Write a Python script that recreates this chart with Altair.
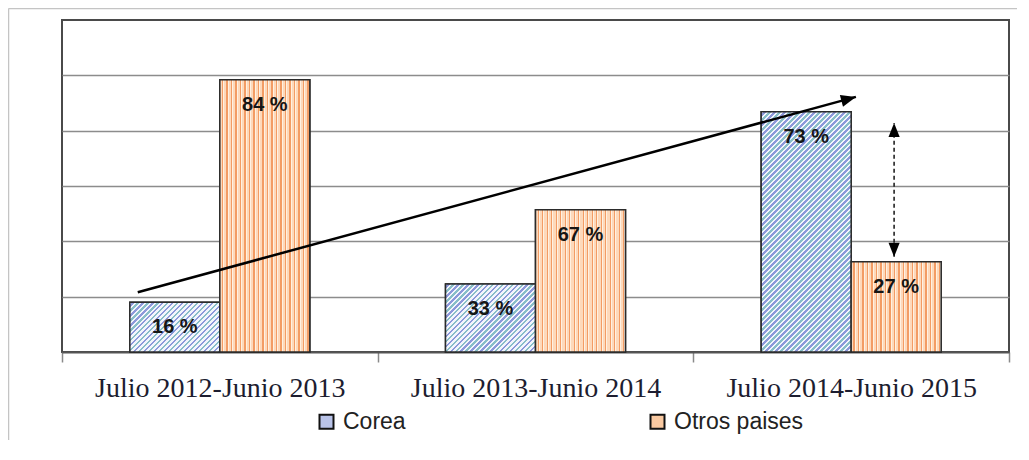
import math
import altair as alt
import pandas as pd

# ---------------- data ----------------
periods = ["Julio 2012-Junio 2013", "Julio 2013-Junio 2014", "Julio 2014-Junio 2015"]
series = ["Corea", "Otros paises"]
corea_values = [0.90, 1.23, 4.34]
otros_values = [4.92, 2.57, 1.63]
corea_pct = [16, 33, 73]
otros_pct = [84, 67, 27]
# annotation arrows (x in category units 0..3, y in value units)
trend_x = [0.24, 2.515]
trend_y = [1.08, 4.61]
gap_x = [2.636, 2.636]
gap_y = [1.72, 4.14]

# ---------------- layout ----------------
W, H = 947, 332
Y_MAX = 6
BAR_W = 90
PX_PER_UNIT = H / Y_MAX
PX_PER_CAT = W / 3

rows = []
for p, cv, ov, cp, op in zip(periods, corea_values, otros_values, corea_pct, otros_pct):
    rows.append({"period": p, "serie": series[0], "value": cv, "label": f"{cp} %"})
    rows.append({"period": p, "serie": series[1], "value": ov, "label": f"{op} %"})
df = pd.DataFrame(rows)

x_enc = alt.X(
    "period:N",
    sort=periods,
    scale=alt.Scale(domain=periods, paddingInner=0, paddingOuter=0),
    axis=alt.Axis(
        title=None, labelAngle=0, tickBand="extent", grid=False, labelLimit=0,
        labelFont="Liberation Serif", labelFontSize=28, labelColor="#1d1d30",
        labelPadding=12, tickSize=10, tickColor="#8a8a8a", tickWidth=1.5,
        domainColor="#555555", domainWidth=2,
    ),
)
xo_enc = alt.XOffset("serie:N", sort=series,
                     scale=alt.Scale(domain=series, paddingInner=0, paddingOuter=0.754))
y_enc = alt.Y(
    "value:Q",
    scale=alt.Scale(domain=[0, Y_MAX], nice=False, zero=True),
    axis=alt.Axis(title=None, labels=False, ticks=False, domain=False,
                  values=[1, 2, 3, 4, 5], grid=True, gridColor="#8c8c8c", gridWidth=1.5),
)

STROKE = dict(stroke="#2b2b2b", strokeWidth=1.5)

base = alt.Chart(df).mark_bar(**STROKE).encode(
    x=x_enc, xOffset=xo_enc, y=y_enc,
    color=alt.Color("serie:N", sort=series,
                    scale=alt.Scale(domain=series, range=["#b9c3e8", "#f9c9a1"]),
                    legend=alt.Legend(title=None)),
)


def diag_gradient(h_px, w_px=BAR_W, period_px=5.0):
    c = (w_px + h_px) * w_px / (w_px ** 2 + h_px ** 2)
    n = max(1, int(round((w_px + h_px) / period_px)))
    light = "#f3f5fc"
    darks = ["#8d98da", "#88bec8"]
    stops = []
    for i in range(n):
        a = i / n
        m = min(1.0, a + 0.5 / n)
        b = min(1.0, (i + 1) / n)
        d = darks[i % 2]
        stops += [alt.GradientStop(offset=a, color=light), alt.GradientStop(offset=m, color=light),
                  alt.GradientStop(offset=m, color=d), alt.GradientStop(offset=b, color=d)]
    return alt.LinearGradient(gradient="linear", stops=stops, x1=0, y1=0, x2=c, y2=c * h_px / w_px)


def vert_gradient(n=20):
    stops = []
    for i in range(n):
        a = i / n
        p1 = a + 0.45 / n
        p2 = a + 0.75 / n
        b = min(1.0, (i + 1) / n)
        stops += [alt.GradientStop(offset=a, color="#fdd9bb"), alt.GradientStop(offset=p1, color="#fdd9bb"),
                  alt.GradientStop(offset=p1, color="#f39c64"), alt.GradientStop(offset=p2, color="#f39c64"),
                  alt.GradientStop(offset=p2, color="#fff1e2"), alt.GradientStop(offset=b, color="#fff1e2")]
    return alt.LinearGradient(gradient="linear", stops=stops, x1=0, y1=0, x2=1, y2=0)


overlays = []
for p, cv in zip(periods, corea_values):
    overlays.append(
        alt.Chart(df).transform_filter(
            (alt.datum.period == p) & (alt.datum.serie == series[0])
        ).mark_bar(color=diag_gradient(cv * PX_PER_UNIT), **STROKE).encode(
            x=x_enc, xOffset=xo_enc, y=y_enc)
    )
overlays.append(
    alt.Chart(df).transform_filter(alt.datum.serie == series[1])
    .mark_bar(color=vert_gradient(), **STROKE).encode(x=x_enc, xOffset=xo_enc, y=y_enc)
)

labels = alt.Chart(df).mark_text(
    dy=31, baseline="alphabetic", align="center", font="Liberation Sans",
    fontSize=20, fontWeight="bold", color="#161616",
).encode(x=x_enc, xOffset=xo_enc, y=y_enc, text="label:N")

bars = alt.layer(base, *overlays, labels)

# ---------------- annotations ----------------
ax_enc = alt.X("ax:Q", scale=alt.Scale(domain=[0, 3], nice=False, zero=False), axis=None)
ay_enc = alt.Y("value:Q", scale=alt.Scale(domain=[0, Y_MAX], nice=False, zero=True))

ARROW_PATH = "M0,0 L-1,-0.4 L-1,0.4 Z"

trend_df = pd.DataFrame({"ax": trend_x, "value": trend_y})
trend_line = alt.Chart(trend_df).mark_line(color="black", strokeWidth=2.5).encode(x=ax_enc, y=ay_enc)
dx = (trend_x[1] - trend_x[0]) * PX_PER_CAT
dy = -(trend_y[1] - trend_y[0]) * PX_PER_UNIT
trend_angle = math.degrees(math.atan2(dy, dx)) % 360
trend_head = alt.Chart(trend_df.iloc[[1]]).mark_point(
    shape=ARROW_PATH, filled=True, color="black", opacity=1, size=900, angle=trend_angle
).encode(x=ax_enc, y=ay_enc)

gap_df = pd.DataFrame({"ax": gap_x, "value": gap_y})
gap_line = alt.Chart(gap_df).mark_line(color="#222222", strokeWidth=1.6, strokeDash=[4, 3]).encode(
    x=ax_enc, y=ay_enc)
gap_top = alt.Chart(gap_df.iloc[[1]]).mark_point(
    shape=ARROW_PATH, filled=True, color="black", opacity=1, size=784, angle=270
).encode(x=ax_enc, y=ay_enc)
gap_bottom = alt.Chart(gap_df.iloc[[0]]).mark_point(
    shape=ARROW_PATH, filled=True, color="black", opacity=1, size=784, angle=90
).encode(x=ax_enc, y=ay_enc)

one = pd.DataFrame({"k": [0]})
frame_top = alt.Chart(one).mark_rule(color="#c4c4c4", strokeWidth=1.5).encode(
    x=alt.value(-53.5), x2=alt.value(W + 20), y=alt.value(-11.5))
frame_left = alt.Chart(one).mark_rule(color="#c4c4c4", strokeWidth=1.5).encode(
    x=alt.value(-53.5), y=alt.value(-11.5), y2=alt.value(H + 100))

annotations = alt.layer(frame_top, frame_left, trend_line, trend_head, gap_line, gap_top, gap_bottom)

chart = alt.layer(bars, annotations).resolve_scale(x="independent").properties(
    width=W, height=H,
    autosize=alt.AutoSizeParams(type="none"),
    padding={"left": 54, "top": 12, "right": 8, "bottom": 88},
).configure_view(
    stroke="#4a4a4a", strokeWidth=2
).configure_legend(
    orient="none", legendX=253, legendY=390, direction="horizontal",
    columnPadding=240, symbolType="square", symbolSize=196,
    symbolStrokeColor="#111111", symbolStrokeWidth=2,
    labelFont="Liberation Sans", labelFontSize=23, labelColor="#222222",
    labelOffset=5, padding=0,
)

chart.save("out.html", embed_options={"renderer": "svg", "actions": False})
